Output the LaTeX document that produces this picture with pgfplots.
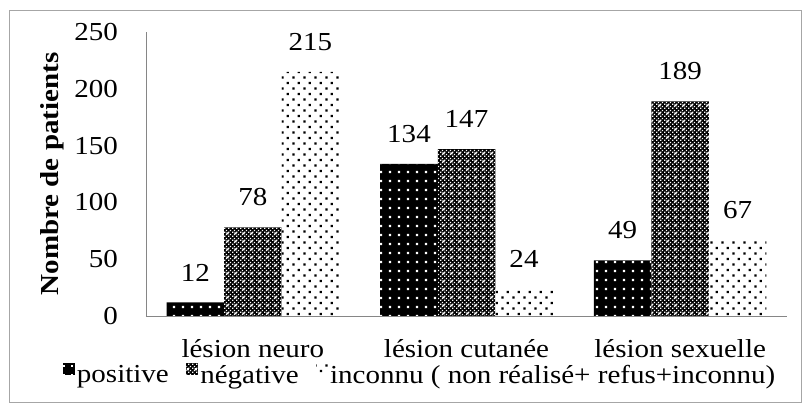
\documentclass[border=0pt]{standalone}
\usepackage{pgfplots}
\pgfplotsset{compat=1.18}
\usetikzlibrary{patterns}
\usepackage{fontspec}
\setmainfont{Liberation Serif}[FakeStretch=1.12]
\newcommand\fs{\fontsize{26}{31}\selectfont}
\definecolor{axgray}{RGB}{134,134,134}
\definecolor{framegray}{RGB}{166,166,166}
\pgfdeclarepatternformonly{finechecker}{\pgfpointorigin}{\pgfqpoint{4bp}{4bp}}{\pgfqpoint{4bp}{4bp}}{%
 \pgfpathrectangle{\pgfqpoint{0.25bp}{0.25bp}}{\pgfqpoint{1.5bp}{1.5bp}}%
 \pgfpathrectangle{\pgfqpoint{2.25bp}{2.25bp}}{\pgfqpoint{1.5bp}{1.5bp}}%
 \pgfusepath{fill}}
\pgfdeclarepatternformonly{sqgrid}{\pgfpointorigin}{\pgfqpoint{8.5bp}{8.5bp}}{\pgfqpoint{8.5bp}{8.5bp}}{%
 \pgfpathrectangle{\pgfqpoint{3bp}{3bp}}{\pgfqpoint{2.4bp}{2.4bp}}%
 \pgfusepath{fill}}
\pgfdeclarepatternformonly{sqgridb}{\pgfpointorigin}{\pgfqpoint{8bp}{8bp}}{\pgfqpoint{8bp}{8bp}}{%
 \pgfpathrectangle{\pgfqpoint{2.8bp}{2.8bp}}{\pgfqpoint{2.4bp}{2.4bp}}%
 \pgfusepath{fill}}
\pgfdeclarepatternformonly{sqstag}{\pgfpointorigin}{\pgfqpoint{11.2bp}{11.4bp}}{\pgfqpoint{11.2bp}{11.4bp}}{%
 \pgfpathrectangle{\pgfqpoint{1.5bp}{1.5bp}}{\pgfqpoint{2.4bp}{2.4bp}}%
 \pgfpathrectangle{\pgfqpoint{7.1bp}{7.2bp}}{\pgfqpoint{2.4bp}{2.4bp}}%
 \pgfusepath{fill}}
\begin{document}
\begin{tikzpicture}
\useasboundingbox (-146bp,-97bp) rectangle (663bp,316bp);
\draw[framegray, line width=0.75bp] (-137bp,-86bp) rectangle (655bp,306bp);
\begin{axis}[
  at={(0,0)}, anchor=south west,
  scale only axis, width=641bp, height=284bp,
  ybar=0pt, bar width=57.5bp,
  xmin=-0.5, xmax=2.5, ymin=0, ymax=250,
  xtick={0,1,2},
  xticklabels={lésion neuro, lésion cutanée, lésion sexuelle},
  ytick={0,50,100,150,200,250},
  axis x line*=bottom, axis y line*=left,
  axis line style={-, draw=axgray, line width=0.75bp},
  major tick length=0pt,
  /pgf/number format/assume math mode=true,
  tick label style={font=\fs},
  xticklabel style={anchor=base, inner sep=0pt, yshift=-41bp},
  yticklabel style={anchor=east, inner sep=0pt, xshift=-28bp},
  ylabel={Nombre de patients},
  ylabel style={font=\fs\bfseries, at={(axis description cs:-0.1466,0.5)}, anchor=center},
  nodes near coords,
  every node near coord/.append style={font=\fs, text=black, inner sep=0pt, yshift=21bp},
  legend columns=-1,
  legend image code/.code={\path[#1] (0bp,0bp) rectangle (12bp,12bp);},
  legend style={draw=none, fill=none, font=\fs,
    at={(axis description cs:-0.1295,-0.204)}, anchor=west,
    inner sep=0pt, outer sep=0pt,
    nodes={inner sep=0.5bp},
    /tikz/every odd column/.append style={column sep=1.5bp},
    /tikz/every even column/.append style={column sep=17bp}},
]
\addplot[draw=none, fill=black,
  postaction={pattern=sqgrid, pattern color=white}]
  coordinates {(0,12) (1,134) (2,49)};
\addplot[draw=none, fill=black,
  postaction={pattern=finechecker, pattern color=white},
  postaction={pattern=sqgridb, pattern color=white}]
  coordinates {(0,78) (1,147) (2,189)};
\addplot[draw=none, fill=white,
  postaction={pattern=sqstag, pattern color=black}]
  coordinates {(0,215) (1,24) (2,67)};
\legend{positive, négative, inconnu ( non réalisé+ refus+inconnu)}
\end{axis}
\end{tikzpicture}
\end{document}
